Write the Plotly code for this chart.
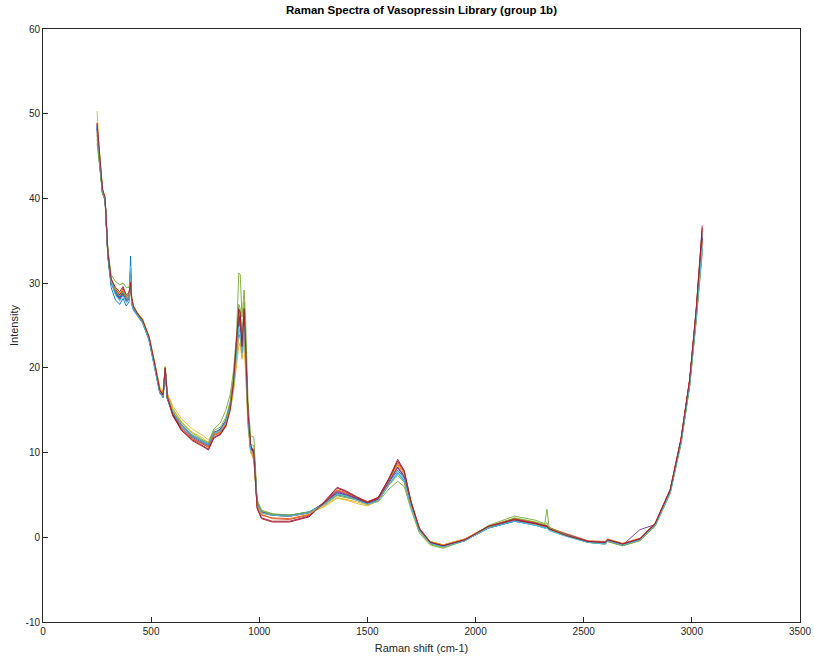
import plotly.graph_objects as go

# Raman shift grid (cm-1)
raman_shift = [250, 262, 275, 287, 300, 315, 335, 355, 370, 385,
               398, 405, 410, 418, 435, 460, 490, 515, 540, 555,
               565, 575, 600, 640, 690, 740, 765, 790, 820, 845,
               865, 880, 895, 905, 912, 920, 930, 938, 948, 960,
               975, 990, 1010, 1060, 1140, 1230, 1300, 1360, 1400, 1450,
               1500, 1550, 1600, 1640, 1670, 1700, 1740, 1790, 1850, 1950,
               2060, 2180, 2280, 2320, 2330, 2340, 2420, 2520, 2600, 2610,
               2680, 2760, 2830, 2900, 2950, 2990, 3020, 3048]

spec01 = [48.5, 44.0, 40.5, 39.8, 33.0, 29.5, 28.0, 27.5, 28.2, 27.3,
          27.8, 33.2, 27.5, 26.8, 26.2, 25.3, 23.3, 20.3, 17.0, 16.5,
          19.5, 16.3, 14.5, 13.0, 11.8, 11.2, 10.8, 12.2, 12.8, 13.8,
          15.5, 17.5, 21.0, 24.0, 23.5, 21.5, 24.5, 20.5, 13.5, 10.0,
          9.8, 3.8, 2.9, 2.6, 2.5, 2.9, 3.9, 5.0, 4.8, 4.4,
          3.9, 4.3, 6.2, 7.6, 6.7, 3.8, 0.9, -0.7, -1.0, -0.3,
          1.1, 1.9, 1.4, 1.1, 1.2, 0.9, 0.2, -0.6, -0.7, -0.4,
          -0.9, -0.3, 1.4, 5.3, 11.2, 18.0, 25.8, 34.0]
spec02 = [47.5, 44.5, 41.0, 40.0, 33.5, 30.3, 29.0, 28.3, 28.8, 28.0,
          28.3, 30.0, 27.8, 27.0, 26.3, 25.5, 23.5, 20.5, 17.3, 16.8,
          19.8, 16.5, 14.3, 12.8, 11.6, 11.0, 10.6, 12.0, 12.3, 13.3,
          15.3, 18.0, 22.0, 26.0, 25.0, 22.5, 26.0, 21.5, 14.0, 10.5,
          9.0, 3.8, 2.7, 2.2, 2.1, 2.6, 4.0, 5.5, 5.2, 4.6,
          4.1, 4.6, 6.8, 8.6, 7.5, 4.2, 1.0, -0.6, -1.0, -0.3,
          1.2, 2.1, 1.6, 1.3, 1.3, 1.0, 0.3, -0.5, -0.6, -0.3,
          -0.8, -0.2, 1.5, 5.5, 11.5, 18.5, 26.5, 35.2]
spec03 = [50.3, 45.0, 41.2, 40.2, 33.8, 30.5, 29.0, 28.4, 28.6, 28.0,
          28.2, 29.8, 27.9, 27.2, 26.5, 25.7, 23.7, 20.8, 17.8, 17.2,
          20.0, 17.0, 15.5, 14.0, 12.8, 12.0, 11.5, 12.5, 12.3, 13.0,
          14.8, 17.0, 20.5, 22.5, 23.0, 21.0, 23.0, 19.0, 13.0, 10.0,
          9.2, 3.6, 2.9, 2.7, 2.6, 2.9, 3.6, 4.6, 4.4, 4.0,
          3.7, 4.3, 6.5, 8.3, 7.2, 4.0, 1.0, -0.5, -0.9, -0.2,
          1.3, 2.0, 1.5, 1.2, 1.2, 0.9, 0.2, -0.5, -0.6, -0.3,
          -0.8, -0.2, 1.6, 5.6, 11.6, 18.6, 26.3, 34.8]
spec04 = [48.8, 44.3, 40.8, 40.0, 33.3, 30.0, 29.0, 28.3, 29.2, 28.2,
          28.5, 31.0, 27.8, 27.0, 26.4, 25.5, 23.4, 20.5, 17.2, 16.6,
          19.9, 16.4, 14.7, 13.2, 11.9, 11.1, 10.9, 12.3, 12.6, 13.6,
          15.6, 18.2, 22.0, 25.5, 26.0, 22.0, 25.0, 21.0, 14.0, 10.4,
          10.2, 4.0, 3.0, 2.6, 2.5, 2.9, 4.1, 5.4, 5.1, 4.6,
          4.0, 4.5, 6.6, 8.2, 7.1, 4.0, 1.0, -0.6, -1.1, -0.4,
          1.1, 2.0, 1.6, 1.2, 1.2, 1.0, 0.3, -0.5, -0.7, -0.3,
          -0.9, 0.9, 1.5, 5.4, 11.4, 18.3, 26.6, 35.5]
spec05 = [46.5, 43.5, 40.8, 40.0, 34.0, 31.0, 30.2, 29.8, 30.0, 29.5,
          29.5, 31.5, 28.5, 27.3, 26.5, 25.6, 23.6, 20.7, 17.5, 16.9,
          19.7, 16.8, 15.2, 13.6, 12.3, 11.5, 11.2, 12.8, 13.5, 15.0,
          16.8, 19.5, 24.0, 31.2, 31.0, 26.0, 29.2, 25.0, 16.0, 12.0,
          11.8, 4.5, 3.2, 2.8, 2.6, 3.0, 3.8, 4.9, 4.7, 4.4,
          3.9, 4.2, 5.7, 6.6, 6.0, 3.4, 0.5, -0.9, -1.3, -0.4,
          1.4, 2.5, 2.0, 1.6, 3.3, 1.2, 0.3, -0.6, -0.8, -0.5,
          -1.0, -0.4, 1.3, 5.2, 11.0, 17.8, 25.5, 33.5]
spec06 = [48.0, 44.2, 40.7, 39.8, 33.2, 30.0, 28.8, 28.0, 28.6, 27.8,
          28.0, 30.3, 27.6, 26.9, 26.2, 25.4, 23.4, 20.4, 17.1, 16.6,
          19.6, 16.4, 14.6, 13.1, 11.9, 11.2, 10.9, 12.2, 12.5, 13.5,
          15.4, 17.8, 21.5, 24.5, 24.0, 21.5, 24.8, 20.5, 13.8, 10.2,
          9.6, 3.9, 2.9, 2.6, 2.5, 2.9, 3.9, 5.1, 4.9, 4.4,
          3.9, 4.3, 6.3, 7.5, 6.6, 3.7, 0.8, -0.7, -1.1, -0.4,
          1.1, 1.9, 1.4, 1.1, 1.1, 0.8, 0.1, -0.6, -0.8, -0.4,
          -0.9, -0.3, 1.4, 5.4, 11.3, 18.2, 26.0, 34.5]
spec07 = [48.3, 44.6, 41.0, 40.0, 33.6, 30.4, 29.3, 28.6, 29.4, 28.4,
          28.7, 30.2, 28.0, 27.1, 26.4, 25.6, 23.6, 20.6, 17.3, 16.7,
          20.0, 16.6, 14.4, 12.6, 11.5, 10.8, 10.4, 11.8, 12.2, 13.2,
          15.2, 18.2, 22.5, 26.5, 25.5, 22.0, 26.5, 21.8, 14.5, 10.8,
          10.0, 3.5, 2.3, 1.9, 1.9, 2.5, 4.2, 5.9, 5.5, 4.8,
          4.2, 4.7, 7.0, 9.2, 7.9, 4.4, 1.1, -0.6, -1.0, -0.3,
          1.3, 2.2, 1.7, 1.4, 1.4, 1.1, 0.3, -0.5, -0.6, -0.3,
          -0.8, -0.2, 1.6, 5.6, 11.6, 18.6, 26.8, 36.8]
spec08 = [48.6, 44.4, 40.9, 40.0, 33.4, 30.2, 28.9, 28.2, 28.9, 28.0,
          28.3, 31.8, 27.8, 27.0, 26.3, 25.5, 23.5, 20.5, 17.2, 16.7,
          19.9, 16.5, 14.8, 13.3, 12.0, 11.3, 11.0, 12.4, 12.7, 13.7,
          15.6, 18.0, 21.8, 25.5, 24.8, 22.2, 25.8, 21.2, 14.2, 10.5,
          10.1, 4.0, 3.0, 2.7, 2.6, 3.0, 4.0, 5.2, 5.0, 4.5,
          4.0, 4.5, 6.5, 7.9, 7.0, 3.9, 0.9, -0.7, -1.1, -0.4,
          1.1, 1.9, 1.5, 1.2, 1.2, 0.9, 0.2, -0.6, -0.7, -0.4,
          -0.9, -0.2, 1.5, 5.4, 11.4, 18.4, 26.2, 35.8]
spec09 = [47.8, 44.0, 40.6, 39.9, 33.2, 30.1, 29.1, 28.8, 29.1, 28.4,
          28.6, 30.8, 28.1, 27.2, 26.4, 25.6, 23.6, 20.6, 17.4, 16.9,
          20.1, 16.7, 14.5, 12.9, 11.7, 11.0, 10.7, 12.1, 12.4, 13.4,
          15.4, 18.3, 22.8, 26.8, 26.2, 22.8, 26.8, 22.0, 14.2, 10.6,
          9.4, 3.7, 2.6, 2.3, 2.2, 2.7, 4.1, 5.6, 5.3, 4.7,
          4.2, 4.6, 6.9, 8.8, 7.7, 4.3, 1.1, -0.5, -0.9, -0.2,
          1.3, 2.2, 1.7, 1.4, 1.4, 1.1, 0.4, -0.4, -0.5, -0.2,
          -0.7, -0.1, 1.7, 5.7, 11.7, 18.7, 26.9, 36.2]
spec10 = [49.0, 44.8, 41.1, 40.1, 33.7, 30.6, 29.4, 28.9, 29.2, 28.5,
          28.8, 30.4, 28.2, 27.3, 26.6, 25.8, 23.8, 20.9, 17.6, 17.0,
          20.2, 16.9, 15.1, 13.6, 12.4, 11.7, 11.2, 12.3, 12.6, 13.4,
          15.0, 17.3, 21.0, 23.5, 23.8, 21.2, 24.0, 19.8, 13.5, 10.2,
          9.5, 3.7, 2.8, 2.6, 2.5, 2.8, 3.7, 4.7, 4.5, 4.2,
          3.8, 4.4, 6.6, 8.5, 7.4, 4.1, 1.0, -0.6, -0.9, -0.2,
          1.2, 2.0, 1.5, 1.2, 1.2, 0.9, 0.2, -0.5, -0.6, -0.3,
          -0.8, -0.2, 1.5, 5.5, 11.5, 18.4, 26.4, 35.0]
spec11 = [48.2, 44.1, 40.7, 39.9, 33.3, 30.1, 28.7, 28.1, 28.7, 27.9,
          28.1, 31.2, 27.7, 26.9, 26.3, 25.4, 23.4, 20.4, 17.1, 16.5,
          19.7, 16.3, 14.6, 13.2, 12.0, 11.3, 11.0, 12.3, 12.7, 13.7,
          15.7, 18.4, 22.3, 25.8, 25.2, 21.8, 25.4, 21.4, 14.3, 10.4,
          10.4, 4.1, 3.0, 2.6, 2.5, 2.9, 4.0, 5.3, 5.0, 4.5,
          4.0, 4.5, 6.7, 8.3, 7.2, 4.0, 1.0, -0.6, -1.0, -0.3,
          1.2, 2.0, 1.6, 1.3, 1.3, 1.0, 0.3, -0.5, -0.6, -0.3,
          -0.8, -0.2, 1.5, 5.5, 11.5, 18.5, 26.5, 35.3]
spec12 = [47.0, 43.8, 40.6, 39.9, 33.4, 30.3, 29.1, 28.5, 29.0, 28.2,
          28.4, 30.6, 27.9, 27.1, 26.4, 25.5, 23.5, 20.5, 17.2, 16.7,
          19.8, 16.6, 14.9, 13.4, 12.1, 11.4, 11.1, 12.6, 13.0, 14.1,
          16.0, 18.8, 22.5, 27.5, 27.0, 23.5, 27.8, 22.5, 14.8, 11.0,
          10.8, 4.2, 3.1, 2.7, 2.6, 3.0, 3.9, 5.1, 4.9, 4.4,
          3.9, 4.3, 6.2, 7.3, 6.5, 3.7, 0.7, -0.8, -1.2, -0.4,
          1.2, 2.3, 1.8, 1.5, 1.7, 1.1, 0.3, -0.6, -0.8, -0.5,
          -1.0, -0.4, 1.3, 5.2, 11.1, 17.9, 25.6, 34.0]
spec13 = [48.4, 44.3, 40.8, 39.9, 33.3, 30.2, 28.6, 27.9, 28.5, 27.7,
          28.0, 32.0, 27.6, 26.9, 26.2, 25.3, 23.3, 20.3, 17.0, 16.5,
          19.6, 16.4, 14.7, 13.2, 12.0, 11.3, 11.0, 12.3, 12.6, 13.6,
          15.5, 17.7, 21.4, 24.8, 24.2, 21.7, 25.0, 20.8, 13.9, 10.3,
          9.9, 3.9, 2.9, 2.6, 2.5, 2.9, 3.9, 5.1, 4.9, 4.4,
          3.9, 4.3, 6.3, 7.7, 6.8, 3.8, 0.8, -0.7, -1.1, -0.4,
          1.1, 1.9, 1.4, 1.1, 1.1, 0.8, 0.1, -0.6, -0.8, -0.4,
          -0.9, -0.3, 1.4, 5.3, 11.2, 18.1, 25.9, 34.2]
spec14 = [48.9, 44.7, 41.1, 40.1, 33.6, 30.5, 29.5, 29.0, 29.6, 28.6,
          28.9, 30.1, 28.2, 27.3, 26.5, 25.7, 23.7, 20.7, 17.4, 16.8,
          20.0, 16.6, 14.5, 12.7, 11.4, 10.7, 10.3, 11.7, 12.1, 13.1,
          15.0, 18.0, 23.0, 27.0, 26.5, 22.5, 27.0, 22.2, 14.6, 11.0,
          9.8, 3.4, 2.2, 1.8, 1.8, 2.4, 4.1, 5.8, 5.4, 4.7,
          4.1, 4.7, 6.9, 9.0, 7.8, 4.3, 1.0, -0.6, -1.0, -0.3,
          1.3, 2.1, 1.6, 1.3, 1.3, 1.0, 0.2, -0.5, -0.6, -0.3,
          -0.8, -0.2, 1.6, 5.6, 11.6, 18.6, 26.8, 36.5]

spectra = [spec01, spec02, spec03, spec04, spec05, spec06, spec07,
           spec08, spec09, spec10, spec11, spec12, spec13, spec14]

x_ticks = [0, 500, 1000, 1500, 2000, 2500, 3000, 3500]
y_ticks = [-10, 0, 10, 20, 30, 40, 50, 60]

colors = ["#0072BD", "#D95319", "#EDB120", "#7E2F8E", "#77AC30", "#4DBEEE", "#A2142F"]

fig = go.Figure()
for i, s in enumerate(spectra):
    n = min(len(s), len(raman_shift))
    fig.add_trace(go.Scatter(
        x=raman_shift[:n], y=s[:n], mode="lines",
        line=dict(color=colors[i % len(colors)], width=0.9),
        showlegend=False, hoverinfo="skip"))

axis_col = "#262626"
font_fam = "Liberation Sans, Arial, sans-serif"

fig.update_layout(
    width=814, height=656,
    margin=dict(l=43, r=14, t=29, b=34, autoexpand=False),
    paper_bgcolor="white", plot_bgcolor="white",
    font=dict(family=font_fam, size=10, color=axis_col),
    title=dict(text="<b>Raman Spectra of Vasopressin Library (group 1b)</b>",
               x=0.5, xanchor="center", xref="paper",
               y=1 - 10 / 656, yref="container", yanchor="middle",
               font=dict(size=11.5, color="#000000", family=font_fam)),
)
fig.update_xaxes(
    range=[0, 3500], tickvals=x_ticks, ticktext=[str(v) for v in x_ticks],
    showgrid=False, zeroline=False, showline=True, mirror=True,
    linecolor=axis_col, linewidth=1, ticks="inside", ticklen=5,
    tickcolor=axis_col, tickfont=dict(size=10, color=axis_col),
    automargin=False,
    title=dict(text="Raman shift (cm-1)", standoff=8,
               font=dict(size=11, color=axis_col)),
)
fig.update_yaxes(
    range=[-10, 60], tickvals=y_ticks, ticktext=[str(v) for v in y_ticks],
    showgrid=False, zeroline=False, showline=True, mirror=True,
    linecolor=axis_col, linewidth=1, ticks="inside", ticklen=5,
    tickcolor=axis_col, tickfont=dict(size=10, color=axis_col),
    automargin=False,
    title=dict(text="Intensity", standoff=4,
               font=dict(size=11, color=axis_col)),
)

fig.write_html("out.html", config={"displayModeBar": False},
               post_script="document.body.style.margin='0px';")
